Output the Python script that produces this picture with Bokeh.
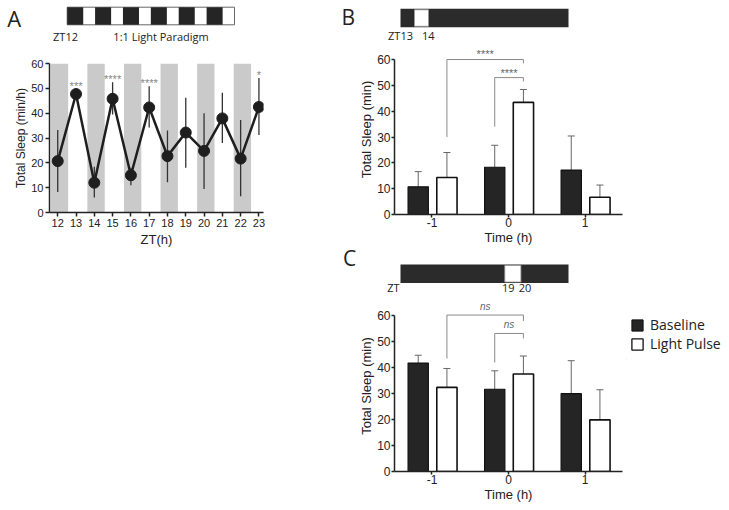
from bokeh.plotting import figure
from bokeh.models import Range1d, FixedTicker, Legend, LegendItem, Whisker, TeeHead, ColumnDataSource
from bokeh.layouts import row, column
from bokeh.embed import file_html
from bokeh.resources import INLINE
from bokeh.core.properties import value

# ---------------- data ----------------
# Panel A: 1:1 light paradigm
zt = [12, 13, 14, 15, 16, 17, 18, 19, 20, 21, 22, 23]
sleep_a = [20.7, 47.7, 12.0, 45.8, 15.0, 42.3, 22.7, 32.2, 24.8, 37.9, 21.7, 42.5]
err_lo_a = [8.3, 46.0, 6.0, 39.5, 11.0, 34.2, 12.2, 18.0, 9.5, 28.0, 6.5, 31.2]
err_hi_a = [33.2, 49.5, 18.4, 52.4, 18.0, 50.8, 33.0, 46.2, 40.0, 48.2, 37.2, 54.2]
dark_hours_a = [12, 14, 16, 18, 20, 22]
star_zt_a = [13, 15, 17, 23]
star_txt_a = ["***", "****", "****", "*"]

# Panels B and C
time_h = [-1, 0, 1]
time_labels = ["-1", "0", "1"]
base_b = [10.7, 18.3, 17.2]
base_b_err = [16.6, 26.8, 30.4]
light_b = [14.3, 43.4, 6.7]
light_b_err = [24.0, 48.4, 11.4]
base_c = [41.8, 31.7, 30.0]
base_c_err = [44.8, 38.8, 42.7]
light_c = [32.4, 37.6, 19.9]
light_c_err = [39.7, 44.5, 31.5]

# significance brackets: big = light(-1) vs light(0); small = baseline(0) vs light(0)
brk_b_top = [60.0, 53.0]
brk_b_left_low = [30.0, 34.0]
brk_b_right_low = [58.5, 51.5]
brk_b_txt = ["****", "****"]
brk_c_top = [60.3, 53.2]
brk_c_left_low = [43.5, 42.0]
brk_c_right_low = [58.0, 51.3]
brk_c_txt = ["ns", "ns"]

bar_hours = [12, 24]
pulse_b = [13, 14]
pulse_c = [19.45, 20.6]
series_names = ["Baseline", "Light Pulse"]
panel_letters = ["A", "B", "C"]

DARK = "#252525"
TICKF = "Liberation Sans"
HF = "Open Sans"
OFF_D, OFF_L, BW = -0.18, 0.195, 0.265
Y_TICKS = [0, 10, 20, 30, 40, 50, 60]


def bare(width, height, xr, yr):
    p = figure(width=width, height=height, x_range=Range1d(*xr), y_range=Range1d(*yr),
               output_backend="svg", toolbar_location=None,
               x_axis_location=None, y_axis_location=None,
               min_border=0, outline_line_color=None, frame_align=False)
    p.grid.visible = False
    return p


def style_axes(p, tick_size, label_size, tick_out, std, lstd):
    for ax in (p.xaxis[0], p.yaxis[0]):
        ax.axis_line_width = 1.5
        ax.axis_line_color = "#222222"
        ax.major_tick_line_width = 1.5
        ax.major_tick_line_color = "#222222"
        ax.major_tick_out = tick_out
        ax.major_tick_in = 0
        ax.minor_tick_line_color = None
        ax.major_label_text_font = TICKF
        ax.major_label_text_font_size = tick_size
        ax.major_label_text_color = "#222222"
        ax.major_label_standoff = std
        ax.axis_label_text_font = TICKF
        ax.axis_label_text_font_size = label_size
        ax.axis_label_text_font_style = "normal"
        ax.axis_label_text_color = "#222222"
        ax.axis_label_standoff = lstd
    p.grid.visible = False
    p.outline_line_color = None


def txt(p, x, y, t, size, font=HF, color="#222222"):
    p.text(x=x, y=y, text=t, text_font=value(font), text_font_size=size,
           text_align="center", text_baseline="middle", text_color=color)


# ---------------- header A ----------------
pxh = 13.94
sA = 12 - 66.7 / pxh
hA = bare(300, 48, (sA, sA + 300 / pxh), (0, 48))
hA.quad(left=[bar_hours[0]], right=[bar_hours[1]], bottom=23.7, top=41.3,
        fill_color="white", line_color="#666666", line_width=1)
hA.quad(left=dark_hours_a, right=[h + 1.15 for h in dark_hours_a], bottom=23.7, top=41.3,
        fill_color=DARK, line_color=None)
txt(hA, [8.2], [30.8], [panel_letters[0]], "22px")
txt(hA, [11.88, 18.73], [12, 12], ["ZT12", "1:1 Light Paradigm"], "11px")

# ---------------- chart A ----------------
pa = figure(width=300, height=207, x_range=Range1d(11.55, 23.25), y_range=Range1d(0, 60),
            output_backend="svg", toolbar_location=None, frame_align=False,
            min_border_left=49, min_border_right=37, min_border_top=15, min_border_bottom=43)
pa.quad(left=[h - 0.38 for h in dark_hours_a], right=[h + 0.57 for h in dark_hours_a],
        bottom=0, top=60, fill_color="#cacaca", line_color=None)
pa.segment(x0=zt, y0=err_lo_a, x1=zt, y1=err_hi_a, line_color="#333333", line_width=1.3)
pa.line(zt, sleep_a, line_color="#1e1e1e", line_width=2.5)
pa.scatter(zt, sleep_a, size=11, fill_color="#1e1e1e", line_color="#1e1e1e")
star_y = [err_hi_a[zt.index(z)] + 2.5 for z in star_zt_a]
pa.text(x=star_zt_a, y=star_y, text=star_txt_a, text_font=value(TICKF), text_font_size="11px",
        text_align="center", text_baseline="middle", text_color="#858585", y_offset=3)
style_axes(pa, "11px", "12px", 4, 2, 0)
pa.xaxis.ticker = FixedTicker(ticks=zt)
pa.yaxis.ticker = FixedTicker(ticks=Y_TICKS)
pa.xaxis.axis_label = "ZT(h)"
pa.yaxis.axis_label = "Total Sleep (min/h)"
pa.xaxis.axis_label_text_font_size = "13px"
pa.xaxis.axis_label_standoff = 2

# ---------------- panel letters B / C ----------------
letters = bare(56, 300, (0, 56), (0, 300))
txt(letters, [47.8, 49.2], [283.8, 42.5], panel_letters[1:], "21px")


# ---------------- headers B / C ----------------
def header(height, bar_top, pulse, labels):
    s = 12 - 44 / 14.0
    h = bare(270, height, (s, s + 270 / 14.0), (0, height))
    h.quad(left=[bar_hours[0]], right=[bar_hours[1]], bottom=bar_top - 18.5, top=bar_top,
           fill_color="#2b2b2b", line_color=None)
    h.quad(left=[pulse[0]], right=[pulse[1]], bottom=bar_top - 17.5, top=bar_top - 1,
           fill_color="white", line_color="#9a9a9a", line_width=0.8)
    lx, ly, lt = labels
    txt(h, lx, ly, lt, "11px")
    return h


hB = header(44, 35.7, pulse_b, ([12.0, 13.98], [9, 9], ["ZT13", "14"]))
hC = header(52, 36, pulse_c, ([11.5, 19.7, 20.9], [13, 13, 13], ["ZT", "19", "20"]))


# ---------------- charts B / C ----------------
def bar_chart(height, bottom, ymax, base, base_err, light, light_err, tops, lows_l, lows_r, labels, italic):
    p = figure(width=270, height=height, x_range=Range1d(-1.49, 1.49), y_range=Range1d(0, ymax),
               output_backend="svg", toolbar_location=None, frame_align=False,
               min_border_left=33, min_border_right=4, min_border_top=0, min_border_bottom=bottom)
    xd = [t + OFF_D for t in time_h]
    xl = [t + OFF_L for t in time_h]
    src = ColumnDataSource(dict(xd=xd, xl=xl, base=base, base_err=base_err, light=light, light_err=light_err))
    for bx, lo, hi in (("xd", "base", "base_err"), ("xl", "light", "light_err")):
        p.add_layout(Whisker(source=src, base=bx, lower=lo, upper=hi,
                             line_color="#666666", line_width=1, lower_head=None,
                             upper_head=TeeHead(size=7, line_color="#666666", line_width=1)))
    p.vbar(x="xd", top="base", width=BW, source=src, fill_color=DARK, line_color="#111111", line_width=1.2)
    p.vbar(x="xl", top="light", width=BW, source=src, fill_color="white", line_color="#111111", line_width=1.6)
    left_x = [xl[0], xd[1]]
    right_x = [xl[1], xl[1]]
    xs = [[a, a, b, b] for a, b in zip(left_x, right_x)]
    ys = [[ll, t, t, rr] for ll, t, rr in zip(lows_l, tops, lows_r)]
    p.multi_line(xs=xs, ys=ys, line_color="#8a8a8a", line_width=1)
    p.text(x=[(a + b) / 2 for a, b in zip(left_x, right_x)], y=[t + 1.2 for t in tops], text=labels,
           text_font=value(TICKF), text_font_size="10px" if italic else "11px",
           text_font_style="italic" if italic else "normal",
           text_align="center", text_baseline="bottom", text_color="#666666",
           y_offset=0 if italic else 4)
    style_axes(p, "12px", "13px", 3, 0, 0)
    p.xaxis.ticker = FixedTicker(ticks=time_h)
    p.xaxis.major_label_overrides = dict(zip(time_h, time_labels))
    p.yaxis.ticker = FixedTicker(ticks=Y_TICKS)
    p.yaxis.bounds = (0, 60)
    p.yaxis.major_label_standoff = 1
    p.xaxis.axis_label = "Time (h)"
    p.yaxis.axis_label = "Total Sleep (min)"
    return p


pb = bar_chart(204, 34, 170 / 2.583, base_b, base_b_err, light_b, light_b_err,
               brk_b_top, brk_b_left_low, brk_b_right_low, brk_b_txt, False)
pc = bar_chart(208, 37, 171 / 2.595, base_c, base_c_err, light_c, light_c_err,
               brk_c_top, brk_c_left_low, brk_c_right_low, brk_c_txt, True)

# ---------------- legend ----------------
lf = bare(102, 360, (0, 102), (0, 360))
r_base = lf.vbar(x=[-500], top=[-400], bottom=[-500], width=1, fill_color=DARK,
                 line_color="#111111", line_width=1)
r_light = lf.vbar(x=[-500], top=[-400], bottom=[-500], width=1, fill_color="white",
                  line_color="#111111", line_width=1.3)
legend = Legend(items=[LegendItem(label=series_names[0], renderers=[r_base]),
                       LegendItem(label=series_names[1], renderers=[r_light])],
                location=(4, 7), orientation="vertical",
                border_line_color=None, background_fill_alpha=0, padding=0, margin=0,
                spacing=0, glyph_width=14, glyph_height=14, label_height=16, label_standoff=6,
                label_text_font=HF, label_text_font_size="14px", label_text_color="#222222")
lf.add_layout(legend, "center")

layout = row(column(hA, pa), letters, column(hB, pb, hC, pc), lf)

with open("out.html", "w") as f:
    f.write(file_html(layout, INLINE))
